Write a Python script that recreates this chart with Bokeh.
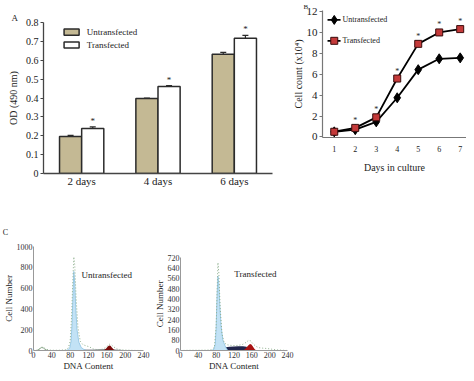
from bokeh.plotting import figure
from bokeh.layouts import row, column
from bokeh.models import (ColumnDataSource, FactorRange, Range1d, FixedTicker,
                          Whisker, TeeHead, Label)
from bokeh.transform import dodge
from bokeh.core.properties import value
from bokeh.embed import file_html
from bokeh.resources import INLINE

SERIF = "Liberation Serif"

# ---------------- Panel A data ----------------
days_a = ["2 days", "4 days", "6 days"]
od_untrans = [0.196, 0.397, 0.632]
od_untrans_err = [0.006, 0.003, 0.010]
od_trans = [0.238, 0.461, 0.717]
od_trans_err = [0.009, 0.005, 0.015]
od_ticks = [0, 0.1, 0.2, 0.3, 0.4, 0.5, 0.6, 0.7, 0.8]
series_names = ["Untransfected", "Transfected"]

# ---------------- Panel B data ----------------
days_b = [1, 2, 3, 4, 5, 6, 7]
count_untrans = [0.49, 0.70, 1.45, 3.75, 6.44, 7.48, 7.57]
count_trans = [0.50, 0.87, 1.88, 5.59, 8.91, 10.0, 10.32]
star_days_b = [2, 3, 4, 5, 6, 7]
count_ticks = [0, 2, 4, 6, 8, 10, 12]

# ---------------- Panel C data ----------------
dna_ticks = [0, 40, 80, 120, 160, 200, 240]
cell_ticks_u = [0, 200, 400, 600, 800, 1000]
cell_ticks_t = [0, 80, 160, 240, 320, 400, 480, 560, 640, 720]

u_outline_x = [0, 8, 14, 18, 22, 27, 34, 45, 60, 70, 76, 80, 83, 86, 88, 90, 93, 97, 102, 108,
               115, 122, 130, 140, 150, 156, 162, 166, 170, 175, 182, 192, 205, 220, 240]
u_outline_y = [0, 4, 18, 32, 30, 14, 4, 2, 3, 8, 25, 90, 320, 700, 900, 820, 500, 220, 90, 55,
               45, 35, 15, 8, 12, 25, 45, 60, 55, 35, 15, 6, 3, 1, 0]
u_g1_x = [70, 75, 79, 82, 84, 86, 88, 90, 92, 95, 99, 104, 110, 116]
u_g1_y = [0, 6, 25, 90, 250, 520, 760, 650, 420, 200, 80, 30, 10, 0]
u_s_x = [72, 80, 95, 110, 130, 150, 165, 180, 195, 205]
u_s_y = [0, 6, 8, 8, 8, 9, 10, 8, 4, 0]
u_g2_x = [150, 155, 159, 162, 165, 168, 171, 175, 180]
u_g2_y = [0, 8, 22, 38, 48, 45, 30, 10, 0]
u_d_x = [8, 13, 17, 21, 25, 30]
u_d_y = [0, 15, 28, 26, 12, 0]

t_outline_x = [0, 20, 40, 60, 70, 76, 80, 82, 84, 86, 89, 93, 98, 104, 112, 120, 130, 140, 148,
               153, 157, 162, 168, 175, 185, 195, 205, 215, 228, 240]
t_outline_y = [0, 2, 2, 3, 6, 25, 190, 450, 680, 600, 330, 130, 60, 45, 40, 38, 40, 48, 65,
               80, 75, 55, 35, 22, 18, 15, 10, 5, 2, 0]
t_g1_x = [70, 75, 78, 80, 82, 84, 86, 88, 91, 95, 100, 106]
t_g1_y = [0, 10, 50, 180, 420, 575, 520, 360, 190, 80, 35, 0]
t_s_x = [76, 82, 90, 100, 110, 120, 130, 140, 148, 154]
t_s_y = [0, 14, 22, 26, 29, 31, 32, 32, 30, 0]
t_g2_x = [140, 145, 149, 153, 156, 159, 162, 166, 170]
t_g2_y = [0, 12, 28, 42, 50, 46, 32, 12, 0]

TAN = "#c4b994"
EDGE = "#2b2b2b"
TXT = "#222222"


def clean(p):
    p.xgrid.visible = False
    p.ygrid.visible = False
    p.outline_line_color = None
    p.background_fill_color = "white"
    p.border_fill_color = "white"


def letter(p, text, size, offset, standoff):
    p.title.text = text
    p.title.align = "left"
    p.title.offset = offset
    p.title.standoff = standoff
    p.title.text_font = SERIF
    p.title.text_font_size = size
    p.title.text_font_style = "normal"
    p.title.text_color = TXT


# ================= Panel A =================
pA = figure(width=288, height=192, x_range=FactorRange(*days_a), y_range=Range1d(0, 0.8),
            output_backend="svg", toolbar_location=None, frame_align=False,
            min_border_left=43, min_border_right=16, min_border_top=22, min_border_bottom=19)
clean(pA)
letter(pA, "A", "9px", -32, 0)
srcA = ColumnDataSource(dict(
    day=days_a, untrans=od_untrans, trans=od_trans,
    u_hi=[v + e for v, e in zip(od_untrans, od_untrans_err)],
    t_hi=[v + e for v, e in zip(od_trans, od_trans_err)],
))
pA.vbar(x=dodge("day", -0.145, range=pA.x_range), top="untrans", width=0.29, source=srcA,
        fill_color=TAN, line_color=EDGE, line_width=1.5)
pA.vbar(x=dodge("day", 0.145, range=pA.x_range), top="trans", width=0.29, source=srcA,
        fill_color="white", line_color=EDGE, line_width=1.5)
for off, lo, hi in [(-0.145, "untrans", "u_hi"), (0.145, "trans", "t_hi")]:
    pA.add_layout(Whisker(source=srcA, base=dodge("day", off, range=pA.x_range),
                          upper=hi, lower=lo, line_color=EDGE, line_width=1.2,
                          upper_head=TeeHead(size=6, line_color=EDGE, line_width=1.2),
                          lower_head=TeeHead(size=1, line_alpha=0)))
pA.text(x=dodge("day", 0.145, range=pA.x_range), y="t_hi", text=value("*"), source=srcA,
        text_font=value(SERIF), text_font_size="9px", text_align="center",
        text_baseline="bottom", y_offset=-1, text_color=TXT)

# legend keys (inside the frame, synthetic categorical coordinates)
pA.rect(x=[0.368, 0.368], y=[0.749, 0.681], width=0.197, height=0.032,
        fill_color=[TAN, "white"], line_color=EDGE, line_width=1.5)
pA.text(x=[0.567, 0.567], y=[0.749, 0.681], text=series_names, text_font=value(SERIF),
        text_font_size="9px", text_align="left", text_baseline="middle", text_color=TXT)

pA.yaxis.ticker = FixedTicker(ticks=od_ticks)
pA.yaxis.major_label_overrides = {0: "0"}
pA.yaxis.major_tick_out = 3
pA.yaxis.major_tick_in = 0
pA.yaxis.minor_tick_out = 0
pA.yaxis.major_label_standoff = 2
pA.yaxis.major_label_text_font_size = "10px"
pA.yaxis.axis_label = "OD (490 nm)"
pA.yaxis.axis_label_text_font_size = "10px"
pA.yaxis.axis_label_standoff = 4
pA.xaxis.major_tick_out = 0
pA.xaxis.major_tick_in = 0
pA.xaxis.major_label_standoff = 1
pA.xaxis.major_label_text_font_size = "11px"
for ax in (pA.xaxis[0], pA.yaxis[0]):
    ax.axis_line_color = "#444"
    ax.axis_line_width = 1.3
    ax.major_tick_line_color = "#444"
    ax.major_label_text_font = SERIF
    ax.axis_label_text_font = SERIF
    ax.axis_label_text_font_style = "normal"
    ax.major_label_text_color = TXT
    ax.axis_label_text_color = TXT

# ================= Panel B =================
pB = figure(width=178, height=192, x_range=Range1d(0.44, 7.3), y_range=Range1d(-0.05, 12.1),
            output_backend="svg", toolbar_location=None, frame_align=False,
            min_border_left=34, min_border_right=0, min_border_top=4, min_border_bottom=55)
clean(pB)
letter(pB, "B", "7px", -19, 0)
pB.line(days_b, count_untrans, line_color="black", line_width=1.8)
pB.scatter(days_b, count_untrans, marker="diamond", size=10, fill_color="black",
           line_color="black")
pB.line(days_b, count_trans, line_color="black", line_width=1.8)
pB.scatter(days_b, count_trans, marker="square", size=7, fill_color="#c43a3a",
           line_color="#3a0c0c", line_width=1)
star_y = [count_trans[days_b.index(d)] for d in star_days_b]
pB.text(x=star_days_b, y=star_y, text=value("*"), text_font=value(SERIF), text_font_size="8px",
        text_align="center", text_baseline="bottom", y_offset=-3, text_color=TXT)

# legend keys (inside the frame)
pB.segment(x0=[0.68, 0.68], y0=[11.2, 9.2], x1=[1.30, 1.30], y1=[11.2, 9.2],
           line_color="black", line_width=1.8)
pB.scatter(x=[1.0], y=[11.2], marker="diamond", size=9, fill_color="black", line_color="black")
pB.scatter(x=[1.0], y=[9.2], marker="square", size=7, fill_color="#c43a3a",
           line_color="#3a0c0c", line_width=1)
pB.text(x=[1.39, 1.39], y=[11.2, 9.2], text=series_names, text_font=value(SERIF),
        text_font_size="8px", text_align="left", text_baseline="middle", text_color=TXT)

pB.xaxis.ticker = FixedTicker(ticks=days_b)
pB.yaxis.ticker = FixedTicker(ticks=count_ticks)
pB.xaxis.major_tick_out = 0
pB.xaxis.major_tick_in = 0
pB.xaxis.minor_tick_out = 0
pB.xaxis.major_label_standoff = 8
pB.xaxis.major_label_text_font_size = "8px"
pB.xaxis.axis_label = "Days in culture"
pB.xaxis.axis_label_standoff = 7
pB.xaxis.axis_label_text_font_size = "10px"
pB.yaxis.major_tick_out = 3
pB.yaxis.major_tick_in = 0
pB.yaxis.minor_tick_out = 0
pB.yaxis.major_label_standoff = 2
pB.yaxis.major_label_text_font_size = "11px"
pB.yaxis.axis_label = "Cell count (x10\u2074)"
pB.yaxis.axis_label_standoff = 0
pB.yaxis.axis_label_text_font_size = "10px"
for ax in (pB.xaxis[0], pB.yaxis[0]):
    ax.axis_line_color = "#777"
    ax.axis_line_width = 1.2
    ax.major_tick_line_color = "#777"
    ax.major_label_text_font = SERIF
    ax.axis_label_text_font = SERIF
    ax.axis_label_text_font_style = "normal"
    ax.major_label_text_color = TXT
    ax.axis_label_text_color = TXT

# ================= Panel C letter strip =================
pL = figure(width=40, height=44, x_range=Range1d(0, 40), y_range=Range1d(0, 44), title=None,
            x_axis_location=None, y_axis_location=None, output_backend="svg",
            toolbar_location=None, frame_align=False, min_border=0)
clean(pL)
pL.text(x=[5], y=[4], text=["C"], text_font=value(SERIF), text_font_size="8px",
        text_align="center", text_baseline="middle", text_color=TXT)


# ================= Panel C =================
def flow_fig(width, ymax, yticks, border_left, border_right, border_top):
    p = figure(width=width, height=137, x_range=Range1d(0, 240), y_range=Range1d(0, ymax),
               title=None, output_backend="svg", toolbar_location=None, frame_align=False,
               min_border_left=border_left, min_border_right=border_right,
               min_border_top=border_top, min_border_bottom=21)
    clean(p)
    p.xaxis.ticker = FixedTicker(ticks=dna_ticks)
    p.yaxis.ticker = FixedTicker(ticks=yticks)
    for ax in (p.xaxis[0], p.yaxis[0]):
        ax.axis_line_color = "#999"
        ax.axis_line_width = 1
        ax.major_tick_line_color = "#999"
        ax.major_tick_in = 0
        ax.minor_tick_out = 0
        ax.major_label_text_font = SERIF
        ax.major_label_text_font_size = "8px"
        ax.major_label_text_color = "#333"
        ax.axis_label_text_font = SERIF
        ax.axis_label_text_font_style = "normal"
        ax.axis_label_text_color = TXT
    p.xaxis.major_tick_out = 0
    p.xaxis.major_label_standoff = 1
    p.xaxis.axis_label = "DNA Content"
    p.xaxis.axis_label_standoff = 0
    p.xaxis.axis_label_text_font_size = "9px"
    p.yaxis.major_tick_out = 0
    p.yaxis.major_label_standoff = 1
    p.yaxis.axis_label = "Cell Number"
    p.yaxis.axis_label_standoff = 0
    p.yaxis.axis_label_text_font_size = "9px"
    return p


BLUE = "#c2e2f5"
BLUE_EDGE = "#8cc2e2"
DOT = "#8fb08f"

pC1 = flow_fig(151, 1000, cell_ticks_u, 29, 8, 10)
pC1.varea(x=u_s_x, y1=0, y2=u_s_y, fill_color="#1c1c30")
pC1.varea(x=u_g1_x, y1=0, y2=u_g1_y, fill_color=BLUE)
pC1.line(u_g1_x, u_g1_y, line_color=BLUE_EDGE, line_width=0.8)
pC1.varea(x=u_g2_x, y1=0, y2=u_g2_y, fill_color="#7a0a0a")
pC1.patch(u_d_x, u_d_y, fill_color="white", line_color="#6f8f6f", line_width=0.8)
pC1.line(u_outline_x, u_outline_y, line_color=DOT, line_width=1, line_dash="1 2")
pC1.add_layout(Label(x=160, y=726, text="Untransfected", text_font=SERIF, text_font_size="9px",
                     text_align="center", text_baseline="middle", text_color=TXT))

pC2 = flow_fig(145, 720, cell_ticks_t, 27, 9, 21)
pC2.varea(x=t_s_x, y1=0, y2=t_s_y, fill_color="#22264d")
pC2.varea(x=t_g1_x, y1=0, y2=t_g1_y, fill_color=BLUE)
pC2.line(t_g1_x, t_g1_y, line_color=BLUE_EDGE, line_width=0.8)
pC2.varea(x=t_g2_x, y1=0, y2=t_g2_y, fill_color="#a81212")
pC2.line(t_outline_x, t_outline_y, line_color=DOT, line_width=1, line_dash="1 2")
pC2.add_layout(Label(x=168, y=591, text="Transfected", text_font=SERIF, text_font_size="9px",
                     text_align="center", text_baseline="middle", text_color=TXT))

layout = column(row(pA, pB), pL, row(pC1, pC2))
open("out.html", "w").write(file_html(layout, INLINE))
